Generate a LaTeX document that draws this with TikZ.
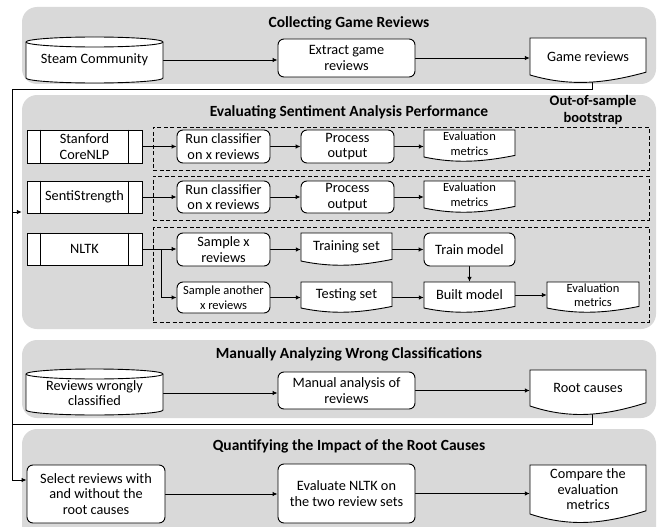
\documentclass[tikz,border=0pt]{standalone}
\usepackage{fontspec}
\setmainfont{Carlito}
\usetikzlibrary{arrows.meta,calc}
\pgfdeclarelayer{bg}\pgfdeclarelayer{mid}\pgfsetlayers{bg,mid,main}
\definecolor{panelgray}{HTML}{D9D9D9}
\newcommand\fmain{\fontsize{14.3}{15.5}\selectfont}
\newcommand\fsmall{\fontsize{12.5}{14.5}\selectfont}
\newcommand\ftitle{\fontsize{15.5}{17}\selectfont\bfseries}
\newcommand\fboot{\fontsize{14.5}{17}\selectfont\bfseries}
% cylinder: x0, y of top ellipse centre, x1, y where sides end, ry
\newcommand\cylshape[5]{%
  \pgfmathsetmacro\cylrx{(#3-#1)/2}%
  \draw[ln,fill=white] (#1,#2) -- (#1,#4) arc[start angle=180,end angle=360,x radius=\cylrx pt,y radius=#5pt] -- (#3,#2) arc[start angle=0,end angle=180,x radius=\cylrx pt,y radius=#5pt] -- cycle;
  \draw[ln] (#1,#2) arc[start angle=180,end angle=360,x radius=\cylrx pt,y radius=#5pt];
}
% document: x0, ytop, x1, ybottom(left), wave depth
\newcommand\docshape[5]{%
  \draw[ln,fill=white] (#1,#2) -- (#1,#4) .. controls ({#1+0.35*(#3-#1)},{#4+1.7*#5}) and ({#1+0.65*(#3-#1)},{#4+1.2*#5}) .. (#3,{#4-0.4*#5}) -- (#3,#2) -- cycle;
}
\begin{document}
\begin{tikzpicture}[x=1pt,y=-1pt,
  ln/.style={line width=0.9pt},
  arr/.style={line width=0.9pt,-{Latex[length=5pt,width=4.5pt]}},
  rbox/.style={draw,fill=white,line width=0.9pt,rounded corners=6pt,inner sep=0pt,align=center,font=\fmain},
  pbox/.style={draw,fill=white,line width=0.9pt,inner sep=0pt,align=center,font=\fmain},
  plain/.style={inner sep=0pt,align=center,font=\fmain},
  panelbox/.style={fill=panelgray,rounded corners=15pt,inner sep=0pt},
  dbox/.style={draw,dash pattern=on 4pt off 2.5pt,line width=0.9pt,inner sep=0pt},
  tnode/.style={inner sep=0pt,align=center,font=\ftitle}]
\useasboundingbox (0,0) rectangle (664,527);
\clip (0,0) rectangle (664,527);
\begin{pgfonlayer}{bg}
\node[panelbox,minimum width=634pt,minimum height=77pt] (p1) at (339,45.5) {};
\node[panelbox,minimum width=634pt,minimum height=234pt] (p2) at (339,212) {};
\node[panelbox,minimum width=634pt,minimum height=78pt] (p3) at (339,379) {};
\node[panelbox,minimum width=634pt,minimum height=116pt] (p4) at (339,487) {};
\end{pgfonlayer}
% titles
\node[tnode] (t1) at (349,23) {Collecting Game Reviews};
\node[tnode] (t2) at (349,112) {Evaluating Sentiment Analysis Performance};
\node[tnode,font=\fboot] (oos) at (593,110) {Out-of-sample\\bootstrap};
\node[tnode] (t3) at (349,354) {Manually Analyzing Wrong Classifications};
\node[tnode] (t4) at (349,446) {Quantifying the Impact of the Root Causes};
% section 1
\cylshape{26}{42}{163}{78}{5}
\node[plain,minimum width=137pt,minimum height=46pt] (steam) at (94.5,60) {Steam Community};
\node[rbox,minimum width=137pt,minimum height=38pt] (extract) at (346.5,58) {Extract game\\reviews};
\docshape{530}{38}{646}{75}{7}
\node[plain,minimum width=116pt,minimum height=37pt] (gamerev) at (588,56.5) {Game reviews};
% section 2
\node[dbox,minimum width=496pt,minimum height=43pt] (d1) at (401,148.5) {};
\node[dbox,minimum width=496pt,minimum height=44pt] (d2) at (401,198) {};
\node[dbox,minimum width=496pt,minimum height=95pt] (d3) at (401,274.5) {};
\node[pbox,minimum width=115pt,minimum height=33pt] (stan) at (84.5,146.5) {Stanford\\CoreNLP};
\node[pbox,minimum width=115pt,minimum height=32pt] (senti) at (84.5,197) {SentiStrength};
\node[pbox,minimum width=115pt,minimum height=32pt] (nltk) at (84.5,249) {NLTK};
\foreach \n in {stan,senti,nltk}{
  \draw[ln] ([xshift=14pt]\n.north west) -- ([xshift=14pt]\n.south west);
  \draw[ln] ([xshift=-14pt]\n.north east) -- ([xshift=-14pt]\n.south east);
}
\node[rbox,minimum width=93pt,minimum height=33pt] (run1) at (223.5,146.5) {Run classifier\\on x reviews};
\node[rbox,minimum width=93pt,minimum height=33pt] (proc1) at (347.5,146.5) {Process\\output};
\docshape{424}{130}{515}{157}{4}
\node[plain,font=\fsmall,minimum width=91pt,minimum height=27pt] (eval1) at (469.5,143.5) {Evaluation\\metrics};
\node[rbox,minimum width=93pt,minimum height=32pt] (run2) at (223.5,197) {Run classifier\\on x reviews};
\node[rbox,minimum width=93pt,minimum height=32pt] (proc2) at (347.5,197) {Process\\output};
\docshape{424}{181}{515}{208}{4}
\node[plain,font=\fsmall,minimum width=91pt,minimum height=27pt] (eval2) at (469.5,194.5) {Evaluation\\metrics};
\node[rbox,minimum width=93pt,minimum height=33pt] (samp1) at (223.5,249.5) {Sample x\\reviews};
\docshape{301}{233}{392}{261}{4}
\node[plain,minimum width=91pt,minimum height=28pt] (trainset) at (346.5,247) {Training set};
\node[rbox,minimum width=91pt,minimum height=33pt] (trainm) at (469.5,249.5) {Train model};
\node[rbox,font=\fsmall,minimum width=93pt,minimum height=31pt] (samp2) at (223.5,297.5) {Sample another\\x reviews};
\docshape{301}{282}{392}{308}{4}
\node[plain,minimum width=91pt,minimum height=26pt] (testset) at (346.5,295) {Testing set};
\docshape{424}{282}{515}{308}{4}
\node[plain,minimum width=91pt,minimum height=26pt] (built) at (469.5,295) {Built model};
\docshape{547}{282}{639}{308}{4}
\node[plain,font=\fsmall,minimum width=92pt,minimum height=26pt] (eval3) at (593,295) {Evaluation\\metrics};
% section 3
\cylshape{26}{374}{163}{410}{5}
\node[plain,minimum width=137pt,minimum height=46pt] (wrong) at (94.5,393) {Reviews wrongly\\classified};
\node[rbox,minimum width=137pt,minimum height=37pt] (manual) at (346.5,390.5) {Manual analysis of\\reviews};
\docshape{530}{370}{646}{406}{8}
\node[plain,minimum width=116pt,minimum height=36pt] (rootc) at (588,388) {Root causes};
% section 4
\node[rbox,minimum width=138pt,minimum height=58pt] (select) at (96,494) {Select reviews with\\and without the\\root causes};
\node[rbox,minimum width=137pt,minimum height=59pt] (evaln) at (346.5,493.5) {Evaluate NLTK on\\the two review sets};
\docshape{530}{465}{646}{514}{8}
\node[plain,minimum width=116pt,minimum height=49pt] (compare) at (588,489.5) {Compare the\\evaluation\\metrics};
% connectors
\begin{pgfonlayer}{mid}
\coordinate (c1) at (12,89);
\coordinate (c3) at (12,424);
\coordinate (c4) at (12,480);
\coordinate (br) at (161,249);
\draw[arr] (steam.east) -- (steam.east -| extract.west);
\draw[arr] (extract.east) -- (extract.east -| gamerev.west);
\draw[arr] ([xshift=4pt]gamerev.south) |- (c1) -- (c4) -- (c4 -| select.west);
\draw[arr] (c1 |- p2.west) -- (p2.west);
\draw[ln] ([xshift=4pt]rootc.south) |- (c3);
\draw[arr] (stan.east) -- (stan.east -| run1.west);
\draw[arr] (run1.east) -- (proc1.west);
\draw[arr] (proc1.east) -- (proc1.east -| eval1.west);
\draw[arr] (senti.east) -- (senti.east -| run2.west);
\draw[arr] (run2.east) -- (proc2.west);
\draw[arr] (proc2.east) -- (proc2.east -| eval2.west);
\draw[arr] (nltk.east) -- (nltk.east -| samp1.west);
\draw[arr] (br) |- (samp2.west);
\draw[arr] (samp1.east) -- (samp1.east -| trainset.west);
\draw[arr] (samp1.east -| trainset.east) -- (samp1.east -| trainm.west);
\draw[arr] (trainm.south) -- (built.north);
\draw[arr] (samp2.east) -- (samp2.east -| testset.west);
\draw[arr] (samp2.east -| testset.east) -- (samp2.east -| built.west);
\draw[arr] (built.east) -- (eval3.west);
\draw[arr] (wrong.east) -- (wrong.east -| manual.west);
\draw[arr] (manual.east) -- (manual.east -| rootc.west);
\draw[arr] (select.east) -- (select.east -| evaln.west);
\draw[arr] (evaln.east) -- (evaln.east -| compare.west);
\end{pgfonlayer}
\end{tikzpicture}
\end{document}
